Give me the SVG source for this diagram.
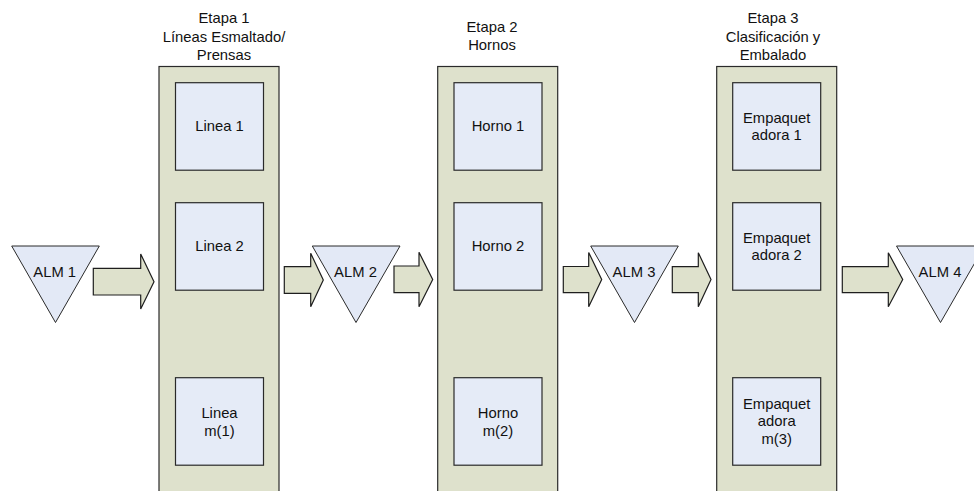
<svg xmlns="http://www.w3.org/2000/svg" width="974" height="491" viewBox="0 0 974 491">
<style>
.col{fill:#dee1cc;stroke:#2a2a2a;stroke-width:1.2}
.box{fill:#e5ebf7;stroke:#2a2a2a;stroke-width:1.2}
.tri{fill:#e3e9f6;stroke:#2a2a2a;stroke-width:1}
.arr{fill:#dee1cc;stroke:#1e1e1e;stroke-width:1.2;stroke-linejoin:miter}
text{font-family:"Liberation Sans",Arial,sans-serif;font-size:14.8px;fill:#111;text-anchor:middle}
</style>
<rect width="974" height="491" fill="#ffffff"/>

<g id="etapa1">
  <text x="224" y="23">Etapa 1</text>
  <text x="224" y="41.5">Líneas Esmaltado/</text>
  <text x="224" y="60">Prensas</text>
  <rect class="col" x="159" y="66.5" width="120" height="440"/>
</g>
<g id="linea1"><rect class="box" x="175.5" y="82.7" width="88" height="87.5"/><text x="219.5" y="131">Linea 1</text></g>
<g id="linea2"><rect class="box" x="175.5" y="202.7" width="88" height="87.5"/><text x="219.5" y="251">Linea 2</text></g>
<g id="lineam"><rect class="box" x="175.5" y="377.7" width="88" height="87.5"/><text x="219.5" y="417.5">Linea</text><text x="219.5" y="435.5">m(1)</text></g>

<g id="etapa2">
  <text x="492" y="32">Etapa 2</text>
  <text x="492" y="50">Hornos</text>
  <rect class="col" x="437.7" y="66.5" width="120" height="440"/>
</g>
<g id="horno1"><rect class="box" x="454" y="82.7" width="88" height="87.5"/><text x="498" y="131">Horno 1</text></g>
<g id="horno2"><rect class="box" x="454" y="202.7" width="88" height="87.5"/><text x="498" y="251">Horno 2</text></g>
<g id="hornom"><rect class="box" x="454" y="377.7" width="88" height="87.5"/><text x="498" y="417.5">Horno</text><text x="498" y="435.5">m(2)</text></g>

<g id="etapa3">
  <text x="773" y="23">Etapa 3</text>
  <text x="773" y="41.5">Clasificación y</text>
  <text x="773" y="60">Embalado</text>
  <rect class="col" x="716.7" y="66.5" width="120" height="440"/>
</g>
<g id="emp1"><rect class="box" x="732.7" y="82.7" width="88" height="87.5"/><text x="776.7" y="122.5">Empaquet</text><text x="776.7" y="140">adora 1</text></g>
<g id="emp2"><rect class="box" x="732.7" y="202.7" width="88" height="87.5"/><text x="776.7" y="242.5">Empaquet</text><text x="776.7" y="260">adora 2</text></g>
<g id="empm"><rect class="box" x="732.7" y="377.7" width="88" height="87.5"/><text x="776.7" y="408.5">Empaquet</text><text x="776.7" y="426">adora</text><text x="776.7" y="444">m(3)</text></g>

<g id="alm1"><polygon class="tri" points="11.7,246 99.3,246 55.5,322.5"/><text x="54.7" y="276.5">ALM 1</text></g>
<g id="alm2"><polygon class="tri" points="312.3,246 400,246 356,322.5"/><text x="355.5" y="276.5">ALM 2</text></g>
<g id="alm3"><polygon class="tri" points="590.7,246 678.3,246 634.5,322.5"/><text x="634" y="276.5">ALM 3</text></g>
<g id="alm4"><polygon class="tri" points="896.5,246 984.5,246 940.5,322.5"/><text x="940" y="276.5">ALM 4</text></g>

<g id="connectors">
  <polygon class="arr" points="93.3,268.3 140.7,268.3 140.7,254 154,281.7 140.7,309 140.7,295 93.3,295"/>
  <polygon class="arr" points="284.3,266.7 310.7,266.7 310.7,253.3 323.3,280 310.7,306.7 310.7,293.3 284.3,293.3"/>
  <polygon class="arr" points="394,266 419,266 419,252.3 432.7,279.5 419,306.7 419,292.7 394,292.7"/>
  <polygon class="arr" points="563.3,266.5 588.7,266.5 588.7,252.5 601.7,279.5 588.7,306.7 588.7,292.7 563.3,292.7"/>
  <polygon class="arr" points="672.3,266.7 698.3,266.7 698.3,252.7 711,279.5 698.3,306.7 698.3,292.7 672.3,292.7"/>
  <polygon class="arr" points="842.3,266.7 888.3,266.7 888.3,252.7 902.7,279.5 888.3,306.7 888.3,292.7 842.3,292.7"/>
</g>
</svg>
